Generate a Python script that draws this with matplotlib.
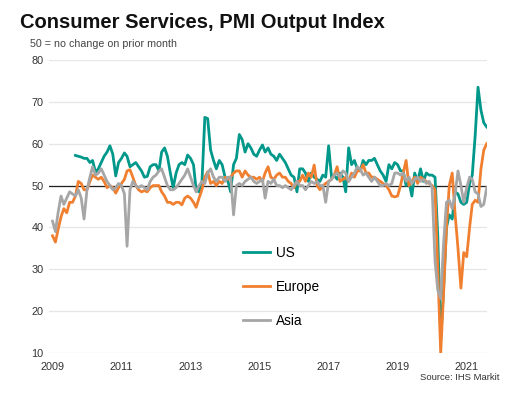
import numpy as np
import pandas as pd
import matplotlib
import matplotlib.pyplot as plt
import matplotlib.dates as mdates

matplotlib.use('Agg')
plt.rcParams['font.family'] = ['Liberation Sans', 'DejaVu Sans']

months = pd.date_range('2009-01-01', periods=152, freq='MS')
tick_years = list(range(2009, 2022, 2))

# monthly index readings, one row per year (2021 runs to August)
us = [
    None, None, None, None, None, None, None, None, 57.2, 57, 56.8, 56.5,
    56.5, 55.5, 56, 53.2, 54, 55.5, 57, 58, 59.5, 57.5, 52.3, 55.5,
    56.5, 57.8, 57, 54.5, 55, 55.5, 54.5, 53.5, 52, 52.2, 54.5, 55,
    55, 53.5, 58, 59, 57, 53, 49.5, 53, 55, 55.5, 55, 57.3,
    56.5, 55, 49, 48.5, 50.5, 66.3, 66, 58.5, 56, 54, 56, 55,
    52, 51, 48.5, 55, 56.5, 62.2, 61, 58, 60, 59, 57.5, 57,
    58.5, 59.7, 58, 59, 57.5, 57, 56, 57.5, 56.5, 55.5, 54, 52.5,
    52, 48.5, 54, 54, 53, 51, 53, 52, 51.5, 51, 52.5, 52,
    59.5, 52, 52.5, 51.5, 53, 52, 48.5, 59, 55, 56, 54, 53.5,
    56, 55, 56, 56, 56.5, 55, 53.5, 52.5, 51, 55, 54, 55.5,
    55, 53.5, 53.5, 50, 51, 47.5, 53, 51, 54, 51, 53, 52.5,
    52.5, 52, 38, 13.5, 25, 40, 43, 42, 48.5, 48, 46, 45.5,
    46, 50.5, 52.5, 62, 73.5, 68, 65, 64,
]
europe = [
    38, 36.5, 39.5, 42.5, 44.5, 43.5, 46, 46, 47.5, 51, 50.5, 49,
    49, 51, 52.5, 52, 51.5, 52, 51, 49.5, 50, 49.5, 48.2, 49.5,
    50.5, 51.5, 53.5, 53.8, 52, 50, 49, 48.5, 48.8, 48.5, 49.5, 50,
    50, 50, 48.5, 47.5, 46, 46, 45.5, 46, 46, 45.4, 47, 47.5,
    47, 46, 44.8, 47, 49, 52, 53.3, 50.5, 51, 50, 51, 50.5,
    52, 51.5, 52, 53, 53.5, 53.5, 52, 53.5, 52.5, 52, 52, 51.5,
    52, 51, 53, 54.5, 52, 51.5, 52.5, 53, 52, 52, 51, 50.5,
    49.5, 51, 51, 52.5, 51, 53, 52, 54.9, 50, 49, 50, 50.5,
    51, 51.5, 52.5, 54.5, 51, 51.5, 52, 51, 53, 52, 53.5, 53.5,
    55, 53, 53, 52, 52, 51.5, 51, 50.5, 50, 49, 47.5, 47.3,
    47.5, 50, 53, 56, 50, 51, 52, 50.5, 52, 51.5, 51, 50.5,
    50, 49, 30, 10, 24, 40, 50, 53, 43, 35, 25.5, 34,
    33, 40, 45.5, 46.5, 46, 54, 58.5, 60,
]
asia = [
    41.5, 39, 43.5, 47.5, 45.5, 47, 48.5, 48, 47.5, 49, 47, 42,
    49, 52, 54.5, 52.5, 53, 54, 52.5, 51, 50, 49, 49.5, 50.5,
    50, 48, 35.5, 49, 51, 50, 49.5, 50, 49.5, 49, 51, 52,
    52.5, 53.5, 54, 52, 50, 49, 49, 49.5, 50.5, 51.5, 52.5, 54,
    52, 50, 48.5, 50, 51, 50.5, 53, 54, 52, 51, 52, 52,
    51, 52, 52, 43, 50, 50.5, 50, 51, 51.5, 52, 51, 50.5,
    51, 51.5, 47, 51, 50.5, 51.5, 50, 50, 49.5, 50, 49.5, 49,
    50, 51, 50, 50, 49, 50, 51, 50.5, 51, 50, 50, 46,
    51, 51.5, 52.5, 53, 52, 53.5, 53, 51, 52, 53, 54.5, 54,
    52.5, 53, 52, 51, 52, 51, 50, 50, 50.5, 50, 50.5, 53,
    53, 52.5, 53, 51, 52, 50.5, 51.5, 52, 51, 51.5, 50.5, 51,
    49.5, 32, 25, 23, 36, 46, 46.5, 44.5, 48, 53.5, 50, 46,
    49.5, 52, 51.5, 48.5, 48, 45, 45.5, 49.5,
]

series = [('US', us, '#00988a'), ('Europe', europe, '#f08030'), ('Asia', asia, '#a6a6a6')]

fig = plt.figure(figsize=(5.2, 3.99), dpi=100)
ax = fig.add_axes([49 / 520, 1 - 353 / 399, 438 / 520, 293 / 399])

for name, vals, col in series:
    y = np.array([np.nan if v is None else v for v in vals], dtype=float)
    ax.plot(months, y, color=col, lw=2.0, label=name, solid_joinstyle='round')

ax.axhline(50, color='#222222', lw=0.9, zorder=1)
ax.set_ylim(10, 80)
ax.set_yticks(np.arange(10, 81, 10))
ax.set_xlim(pd.Timestamp('2008-11-25'), pd.Timestamp('2021-08-04'))
ax.set_xticks(pd.to_datetime([f'{y}-01-01' for y in tick_years]))
ax.xaxis.set_major_formatter(mdates.DateFormatter('%Y'))
ax.grid(axis='y', color='#e6e6e6', lw=0.9)
ax.set_axisbelow(True)
for s in ax.spines.values():
    s.set_visible(False)
ax.tick_params(length=0, labelsize=7.8, colors='#333333', pad=4)
ax.tick_params(axis='x', pad=6.5)

fig.text(20 / 520, 1 - 22 / 399, 'Consumer Services, PMI Output Index',
         fontsize=14.5, fontweight='bold', va='center', color='#111111')
fig.text(30 / 520, 1 - 44 / 399, '50 = no change on prior month',
         fontsize=7.7, va='center', color='#444444')
fig.text(500 / 520, 1 - 378 / 399, 'Source: IHS Markit',
         fontsize=6.8, ha='right', va='center', color='#333333')

ax.legend(loc='upper left', bbox_to_anchor=(243 / 520, 1 - 246 / 399),
          bbox_transform=fig.transFigure, frameon=False, fontsize=9.8,
          handlelength=2.0, handletextpad=0.45, labelspacing=1.46,
          borderpad=0, borderaxespad=0)

fig.savefig('out.png', dpi=100)
